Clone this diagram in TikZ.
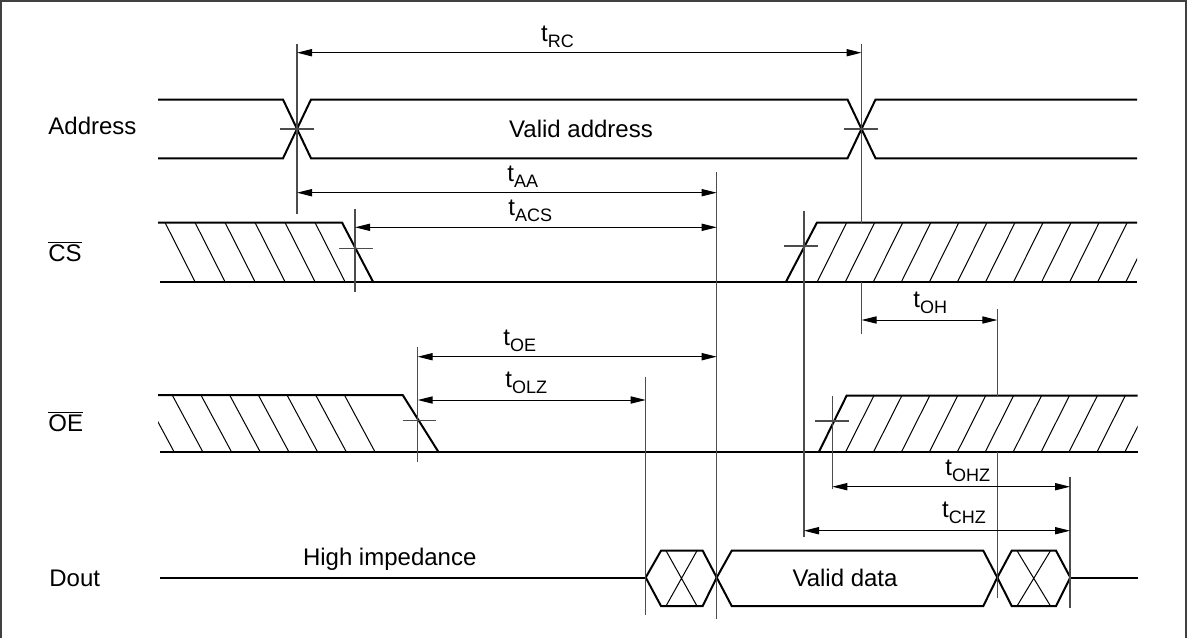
\documentclass[tikz,border=0pt]{standalone}
\usepackage{fontspec}
\setmainfont{Liberation Sans}
\usetikzlibrary{arrows.meta}
\newcommand{\tsub}[1]{t\raisebox{-3pt}{\fontsize{9}{9}\selectfont #1}}
\tikzset{
  sig/.style={line width=1pt},
  hatchln/.style={line width=0.5pt},
  refl/.style={line width=0.55pt, draw=black!70},
  dimarr/.style={line width=0.5pt, {Triangle[length=7.5pt,width=3.6pt]}-{Triangle[length=7.5pt,width=3.6pt]}},
  lbl/.style={inner sep=0pt, font=\fontsize{12}{14}\selectfont},
  frameln/.style={line width=1pt, draw=black!75}
}
\begin{document}
\begin{tikzpicture}[x=0.5pt,y=-0.5pt]
\useasboundingbox (0,0) rectangle (1187,637);
\draw[frameln] (1,640) -- (1,1) -- (1185.5,1) -- (1185.5,640);

% ---------- signal names ----------
\node[lbl, anchor=base west] (nAddr) at (48,134.5) {Address};
\node[lbl, anchor=base west] (nCS) at (48,261.7) {$\overline{\mbox{CS}}$};
\node[lbl, anchor=base west] (nOE) at (48,431.7) {$\overline{\mbox{OE}}$};
\node[lbl, anchor=base west] (nDout) at (49,586) {Dout};

% ---------- Address ----------
\draw[sig] (158,99.5) -- (283,99.5) -- (311,158.3) -- (847.5,158.3) -- (875.5,99.5) -- (1137,99.5);
\draw[sig] (158,158.3) -- (283,158.3) -- (311,99.5) -- (847.5,99.5) -- (875.5,158.3) -- (1137,158.3);
\node[lbl] (vaddr) at (581,129) {Valid address};

% ---------- CS ----------
\draw[sig] (158,222.5) -- (342,222.5) -- (373,281.7);
\draw[sig] (160,281.7) -- (1137,281.7);
\draw[sig] (786,281.7) -- (817,222.5) -- (1137,222.5);
\foreach \x in {165,195,...,315} \draw[hatchln] (\x,222.5) -- (\x+30,281.7);
\begin{scope}
  \clip (786,222) rectangle (1137,282);
  \foreach \k in {0,...,11} \draw[hatchln] (817.3+28.05*\k,281.7) -- (846.7+28.05*\k,222.5);
\end{scope}

% ---------- OE ----------
\draw[sig] (158,395) -- (402.7,395) -- (438.3,451.7);
\draw[sig] (160,451.7) -- (1137.7,451.7);
\draw[sig] (819,451.7) -- (846.7,395.5) -- (1137.7,395.5);
\begin{scope}
  \clip (158,395) -- (402.7,395) -- (438.3,451.7) -- (158,451.7) -- cycle;
  \foreach \k in {0,...,7} \draw[hatchln] (143.5+28.7*\k,395) -- (174+28.7*\k,451.7);
\end{scope}
\begin{scope}
  \clip (819,395) rectangle (1137.7,452);
  \foreach \k in {0,...,10} \draw[hatchln] (845.7+27.93*\k,451.7) -- (874+27.93*\k,395.5);
\end{scope}

% ---------- Dout ----------
\draw[sig] (160,577.5) -- (645.7,577.5);
\draw[sig] (645.7,577.5) -- (661,550.7) -- (702.7,550.7) -- (716.7,577.5) -- (702.7,606) -- (661,606) -- cycle;
\draw[hatchln] (666,550.7) -- (697,606) (697,550.7) -- (666,606);
\draw[sig] (716.7,577.5) -- (731.7,550.7) -- (983.3,550.7) -- (997.3,577.5) -- (983.3,606) -- (731.7,606) -- cycle;
\draw[sig] (997.3,577.5) -- (1011.7,550.7) -- (1056,550.7) -- (1070.3,577.5) -- (1056,606) -- (1011.7,606) -- cycle;
\draw[hatchln] (1017,550.7) -- (1050.5,606) (1050.5,550.7) -- (1017,606);
\draw[sig] (1070.3,578) -- (1137.7,578);
\node[lbl, anchor=base west] (hiz) at (302.6,565) {High impedance};
\node[lbl] (vdata) at (845,578) {Valid data};

% ---------- reference lines & crosshairs ----------
\draw[refl] (297,44) -- (297,214);
\draw[refl] (280,129) -- (314,129);
\draw[refl] (861.5,44) -- (861.5,222.5) (861.5,281.7) -- (861.5,334);
\draw[refl] (844,129) -- (878,129);
\draw[refl] (355,209) -- (355,291.7);
\draw[refl] (339,248.3) -- (373,248.3);
\draw[refl] (716.7,171.7) -- (716.7,619);
\draw[refl] (804,210.7) -- (804,537.3);
\draw[refl] (784,246) -- (818,246);
\draw[refl] (417.7,347.3) -- (417.7,461.7);
\draw[refl] (402.7,420.7) -- (436,420.7);
\draw[refl] (645.7,376.7) -- (645.7,615);
\draw[refl] (832.3,395.7) -- (832.3,489.3);
\draw[refl] (815,421) -- (849,421);
\draw[refl] (997.3,309.3) -- (997.3,395.5) (997.3,451.7) -- (997.3,598.3);
\draw[refl] (1070,476.7) -- (1070,608.3);

% ---------- timing arrows ----------
\coordinate (rcA) at (297,52.7);   \coordinate (rcB) at (861.5,52.7);
\coordinate (aaA) at (297,192.7);  \coordinate (aaB) at (716.7,192.7);
\coordinate (acsA) at (355,227.3); \coordinate (acsB) at (716.7,227.3);
\coordinate (oeA) at (417.7,356.7); \coordinate (oeB) at (716.7,356.7);
\coordinate (olzA) at (417.7,400); \coordinate (olzB) at (645.7,400);
\coordinate (ohA) at (861.5,320);  \coordinate (ohB) at (997.3,320);
\coordinate (ohzA) at (832.3,486.7); \coordinate (ohzB) at (1070,486.7);
\coordinate (chzA) at (804,530.7); \coordinate (chzB) at (1070,530.7);
\draw[dimarr] (rcA) -- (rcB);
\draw[dimarr] (aaA) -- (aaB);
\draw[dimarr] (acsA) -- (acsB);
\draw[dimarr] (oeA) -- (oeB);
\draw[dimarr] (olzA) -- (olzB);
\draw[dimarr] (ohA) -- (ohB);
\draw[dimarr] (ohzA) -- (ohzB);
\draw[dimarr] (chzA) -- (chzB);

\node[lbl, anchor=south west] (lrc) at (540.7,48.3) {\tsub{RC}};
\node[lbl, anchor=south west] (laa) at (507,188.3) {\tsub{AA}};
\node[lbl, anchor=south west] (lacs) at (508,221.7) {\tsub{ACS}};
\node[lbl, anchor=south west] (loe) at (503,351.7) {\tsub{OE}};
\node[lbl, anchor=south west] (lolz) at (505,394) {\tsub{OLZ}};
\node[lbl, anchor=south west] (loh) at (913,314) {\tsub{OH}};
\node[lbl, anchor=south west] (lohz) at (945,481.7) {\tsub{OHZ}};
\node[lbl, anchor=south west] (lchz) at (941.7,524.5) {\tsub{CHZ}};
\end{tikzpicture}
\end{document}
